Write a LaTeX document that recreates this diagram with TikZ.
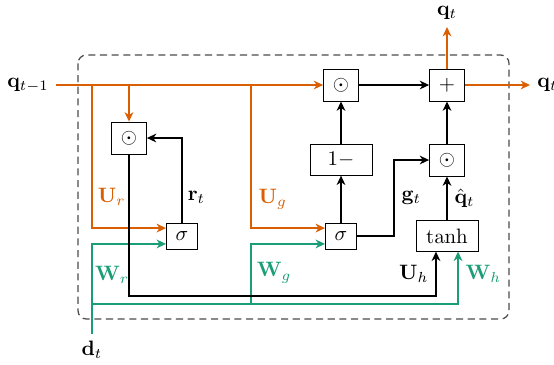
\documentclass[tikz,border=0pt]{standalone}
\usepackage{amsmath,amssymb}
\usetikzlibrary{arrows.meta,positioning}
\definecolor{qorange}{HTML}{D95F02}
\definecolor{dgreen}{HTML}{1B9E77}
\begin{document}
\begin{tikzpicture}[x=0.48pt,y=-0.48pt,box/.style={draw,minimum width=29.8pt,minimum height=14.6pt,inner sep=1pt},op/.style={draw,minimum width=16.8pt,minimum height=15.4pt,inner sep=1pt},sg/.style={draw,minimum width=15pt,minimum height=12.5pt,inner sep=1pt},arr/.style={-{Stealth[length=4.5pt,width=4.2pt,inset=1.4pt]},semithick},oarr/.style={arr,qorange},garr/.style={arr,dgreen}]
\useasboundingbox (0,0) rectangle (554,364);
\draw[black!70,semithick,dash pattern=on 3.4pt off 2.2pt,rounded corners=4pt] (78,55) rectangle (509,319);
\node[op] (mula) at (341,85) {$\odot$};
\node[op] (add) at (447,85) {$+$};
\node[box] (onem) at (341,160) {$1-$};
\node[op] (mulb) at (447,160) {$\odot$};
\node[op] (mulr) at (129,138) {$\odot$};
\node[sg] (sigr) at (182,236) {$\sigma$};
\node[sg] (sigg) at (341,236) {$\sigma$};
\node[box] (tanh) at (447,236) {$\tanh$};
\node (qin) at (28,85) {$\mathbf{q}_{t-1}$};
\node[anchor=west] (qout) at (530,85) {$\mathbf{q}_t$};
\node (qup) at (447,13) {$\mathbf{q}_t$};
\node (dt) at (92,350) {$\mathbf{d}_t$};
\coordinate (bu) at (92,85);
\coordinate (bg) at (251,85);
\coordinate (gr) at (92,304);
\coordinate (gg) at (251,304);
\coordinate (hb) at (129,296);
\coordinate (gc) at (394,198);
\draw[oarr] (qin.east) -- (mula.west);
\draw[oarr] (mulr |- qin) -- (mulr.north);
\draw[oarr] (bu) |- node[pos=.39,right,inner sep=2.5pt]{$\mathbf{U}_r$} ([yshift=3.8pt]sigr.west);
\draw[oarr] (bg) |- node[pos=.4,right]{$\mathbf{U}_g$} ([yshift=3.8pt]sigg.west);
\draw[garr] (dt.north) |- node[pos=.33,right,inner sep=1.2pt]{$\mathbf{W}_r$} ([yshift=-3.8pt]sigr.west);
\draw[garr] (gg) |- node[pos=.26,right,inner sep=2.5pt]{$\mathbf{W}_g$} ([yshift=-3.8pt]sigg.west);
\draw[garr] (gr) -| node[pos=.79,right]{$\mathbf{W}_h$} ([xshift=5.3pt]tanh.south);
\draw[arr] (mulr.south) -- (hb) -| node[pos=.75,left]{$\mathbf{U}_h$} ([xshift=-5.3pt]tanh.south);
\draw[arr] (sigr.north) |- node[pos=.15,right,inner sep=2.5pt]{$\mathbf{r}_t$} (mulr.east);
\draw[arr] (sigg.north) -- (onem.south);
\draw[arr] (onem.north) -- (mula.south);
\draw[arr] (mula.east) -- (add.west);
\draw[arr] (sigg.east) -| (gc) node[right]{$\mathbf{g}_t$} |- (mulb.west);
\draw[arr] (tanh.north) -- node[right]{$\hat{\mathbf{q}}_t$} (mulb.south);
\draw[arr] (mulb.north) -- (add.south);
\draw[oarr] (add.east) -- (qout.west);
\draw[oarr] (add.north) -- (qup.south);
\end{tikzpicture}
\end{document}
